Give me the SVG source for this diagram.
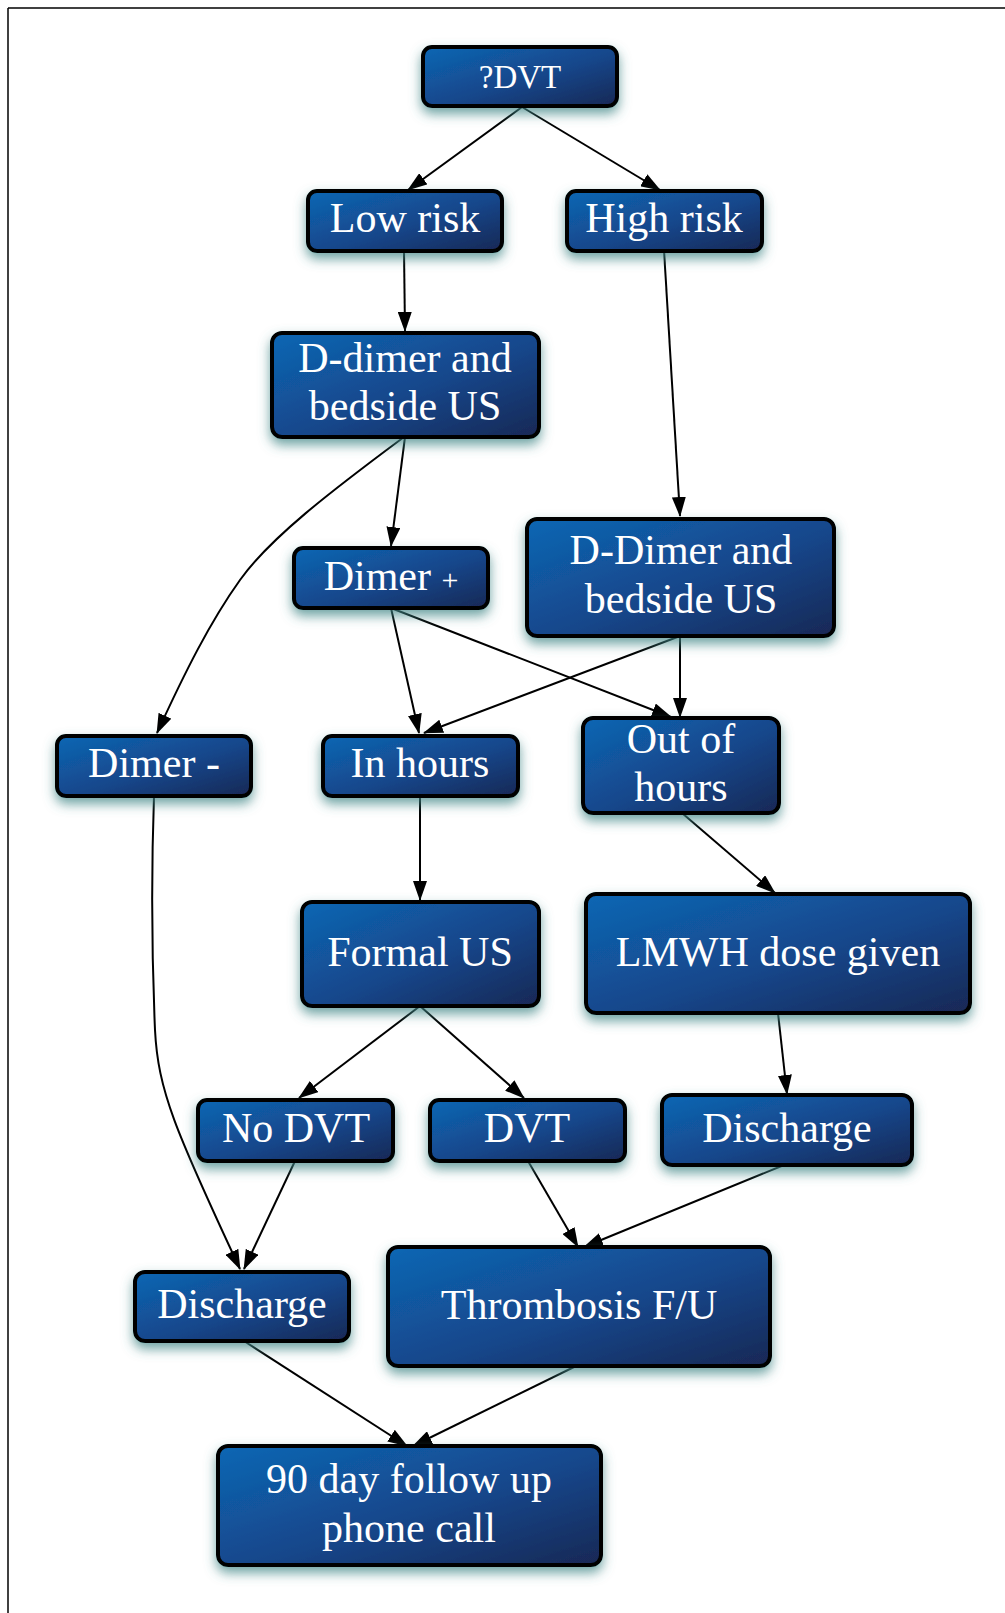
<svg xmlns="http://www.w3.org/2000/svg" width="1005" height="1613" viewBox="0 0 1005 1613">
<defs>
<linearGradient id="g" x1="0" y1="0" x2="1" y2="1">
<stop offset="0" stop-color="#0e67b4"/>
<stop offset="0.55" stop-color="#15468a"/>
<stop offset="1" stop-color="#1a2855"/>
</linearGradient>
<filter id="sh" x="-20%" y="-30%" width="140%" height="170%">
<feGaussianBlur in="SourceAlpha" stdDeviation="6"/>
<feOffset dx="0" dy="6" result="b"/>
<feFlood flood-color="#3f8585" flood-opacity="0.75"/>
<feComposite in2="b" operator="in"/>
<feMerge><feMergeNode/><feMergeNode in="SourceGraphic"/></feMerge>
</filter>
<marker id="ah" viewBox="0 0 20 14" refX="19" refY="7" markerWidth="20" markerHeight="14" markerUnits="userSpaceOnUse" orient="auto">
<path d="M0,0 L20,7 L0,14 Z" fill="#000"/>
</marker>
</defs>
<style>
.box{fill:url(#g);stroke:#000;stroke-width:4;filter:url(#sh)}
.t{font-family:'Liberation Serif','Times New Roman',serif;font-size:42px;fill:#fff;text-anchor:middle}
.e{fill:none;stroke:#000;stroke-width:2;marker-end:url(#ah)}
</style>
<rect x="0" y="0" width="1005" height="1613" fill="#fff"/>
<g id="frame">
<line x1="8" y1="8" x2="1005" y2="8" stroke="#000" stroke-width="1.5"/>
<line x1="8" y1="8" x2="8" y2="1613" stroke="#000" stroke-width="1.5"/>
</g>
<g id="connectors">
<path class="e" d="M522,107 L408,190"/>
<path class="e" d="M522,107 L660,190"/>
<path class="e" d="M404,250 L405,331"/>
<path class="e" d="M664,250 L680,516"/>
<path class="e" d="M405,437 L391,546"/>
<path class="e" d="M404,437 C330,492 270,538 240,580 C210,622 185,672 157,733"/>
<path class="e" d="M391,608 L419,733"/>
<path class="e" d="M391,608 L671,717"/>
<path class="e" d="M680,636 L424,733"/>
<path class="e" d="M680,636 L680,717"/>
<path class="e" d="M420,796 L420,900"/>
<path class="e" d="M154,796 C151,880 152,960 155,1030 C158,1090 175,1130 240,1269"/>
<path class="e" d="M420,1006 L299,1098"/>
<path class="e" d="M420,1006 L524,1098"/>
<path class="e" d="M682,813 L775,893"/>
<path class="e" d="M778,1013 L787,1094"/>
<path class="e" d="M295,1161 L244,1269"/>
<path class="e" d="M528,1161 L578,1247"/>
<path class="e" d="M784,1165 L584,1247"/>
<path class="e" d="M244,1341 L407,1446"/>
<path class="e" d="M576,1366 L413,1446"/>
</g>
<g font-family="'Liberation Serif', 'Times New Roman', serif">
<g id="n_dvt"><rect class="box" x="423" y="47" width="194" height="59" rx="9"/><text class="t" x="520" y="88" style="font-size:33px">?DVT</text></g>
<g id="n_low"><rect class="box" x="308" y="191" width="194" height="60" rx="9"/><text class="t" x="405" y="232">Low risk</text></g>
<g id="n_high"><rect class="box" x="567" y="191" width="195" height="60" rx="9"/><text class="t" x="664" y="232">High risk</text></g>
<g id="n_dd1"><rect class="box" x="272" y="333" width="267" height="104" rx="10"/><text class="t" x="405" y="372">D-dimer and</text><text class="t" x="405" y="420">bedside US</text></g>
<g id="n_dplus"><rect class="box" x="294" y="548" width="194" height="60" rx="9"/><text class="t" x="391" y="590">Dimer <tspan style="font-size:30px">+</tspan></text></g>
<g id="n_dd2"><rect class="box" x="527" y="519" width="307" height="117" rx="10"/><text class="t" x="681" y="564">D-Dimer and</text><text class="t" x="681" y="613">bedside US</text></g>
<g id="n_dminus"><rect class="box" x="57" y="736" width="194" height="60" rx="9"/><text class="t" x="154" y="777">Dimer -</text></g>
<g id="n_inh"><rect class="box" x="323" y="736" width="195" height="60" rx="9"/><text class="t" x="420" y="777">In hours</text></g>
<g id="n_ooh"><rect class="box" x="583" y="718" width="196" height="95" rx="10"/><text class="t" x="681" y="753">Out of</text><text class="t" x="681" y="801">hours</text></g>
<g id="n_formal"><rect class="box" x="302" y="902" width="237" height="104" rx="10"/><text class="t" x="420" y="966">Formal US</text></g>
<g id="n_lmwh"><rect class="box" x="586" y="894" width="384" height="119" rx="10"/><text class="t" x="778" y="966">LMWH dose given</text></g>
<g id="n_nodvt"><rect class="box" x="198" y="1100" width="195" height="61" rx="9"/><text class="t" x="296" y="1142">No DVT</text></g>
<g id="n_yesdvt"><rect class="box" x="430" y="1100" width="195" height="61" rx="9"/><text class="t" x="527" y="1142">DVT</text></g>
<g id="n_dis2"><rect class="box" x="662" y="1095" width="250" height="70" rx="10"/><text class="t" x="787" y="1142">Discharge</text></g>
<g id="n_dis1"><rect class="box" x="135" y="1272" width="214" height="69" rx="10"/><text class="t" x="242" y="1318">Discharge</text></g>
<g id="n_thromb"><rect class="box" x="388" y="1247" width="382" height="119" rx="10"/><text class="t" x="579" y="1319">Thrombosis F/U</text></g>
<g id="n_90"><rect class="box" x="218" y="1446" width="383" height="119" rx="10"/><text class="t" x="409" y="1493">90 day follow up</text><text class="t" x="409" y="1542">phone call</text></g>
</g>
</svg>
